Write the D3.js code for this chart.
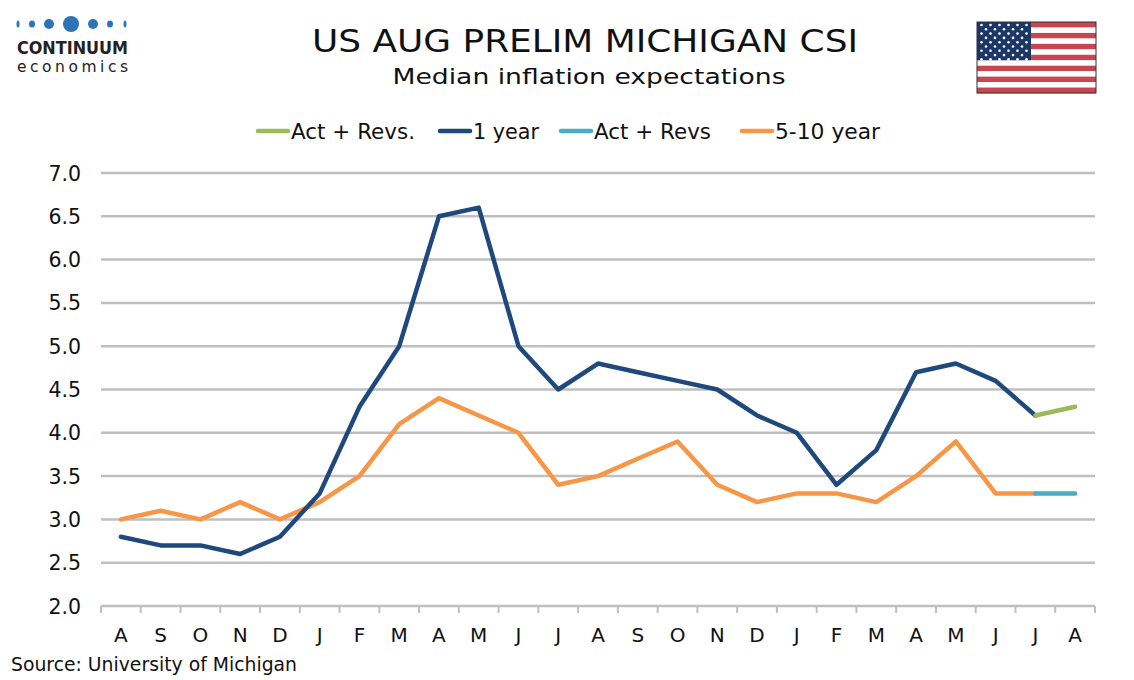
<!DOCTYPE html>
<html><head><meta charset="utf-8">
<script src="https://cdn.jsdelivr.net/npm/d3@7"></script>
<style>body{margin:0;background:#fff}svg{display:block}text{font-family:"DejaVu Sans",Verdana,sans-serif}</style>
</head><body>
<script>
const months = ["A","S","O","N","D","J","F","M","A","M","J","J","A","S","O","N","D","J","F","M","A","M","J","J","A"];
const oneYear = [2.8,2.7,2.7,2.6,2.8,3.3,4.3,5.0,6.5,6.6,5.0,4.5,4.8,4.7,4.6,4.5,4.2,4.0,3.4,3.8,4.7,4.8,4.6,4.2,null];
const oneYearRev = [null,null,null,null,null,null,null,null,null,null,null,null,null,null,null,null,null,null,null,null,null,null,null,4.2,4.3];
const fiveTen = [3.0,3.1,3.0,3.2,3.0,3.2,3.5,4.1,4.4,4.2,4.0,3.4,3.5,3.7,3.9,3.4,3.2,3.3,3.3,3.2,3.5,3.9,3.3,3.3,null];
const fiveTenRev = [null,null,null,null,null,null,null,null,null,null,null,null,null,null,null,null,null,null,null,null,null,null,null,3.3,3.3];
const yTicks = [2.0,2.5,3.0,3.5,4.0,4.5,5.0,5.5,6.0,6.5,7.0];
const legendItems = [
  {name:"Act + Revs.", color:"#9BBB59"},
  {name:"1 year", color:"#1F497D"},
  {name:"Act + Revs", color:"#4BACC6"},
  {name:"5-10 year", color:"#F79646"}
];

const W=1134,H=680;
const svg=d3.select("body").append("svg").attr("width",W).attr("height",H);
const L=101,R=1095,T=173,B=606;
const x=d3.scaleBand().domain(d3.range(months.length)).range([L,R]);
const y=d3.scaleLinear().domain([2,7]).range([B,T]);

// gridlines
svg.append("g").selectAll("line").data(yTicks).join("line")
  .attr("x1",L).attr("x2",R).attr("y1",d=>y(d)).attr("y2",d=>y(d))
  .attr("stroke","#BFBFBF").attr("stroke-width",2.5);
// y labels
svg.append("g").selectAll("text").data(yTicks).join("text")
  .attr("x",81).attr("y",d=>y(d)+7.5).attr("text-anchor","end")
  .attr("font-size",20.5).attr("fill","#111").text(d=>d.toFixed(1));
// x ticks
const bounds=d3.range(months.length+1).map(i=>L+i*x.step());
svg.append("g").selectAll("line").data(bounds).join("line")
  .attr("x1",d=>d).attr("x2",d=>d).attr("y1",B).attr("y2",B+7)
  .attr("stroke","#BFBFBF").attr("stroke-width",2);
svg.append("g").selectAll("text").data(months).join("text")
  .attr("x",(d,i)=>x(i)+x.bandwidth()/2).attr("y",642).attr("text-anchor","middle")
  .attr("font-size",20).attr("fill","#111").text(d=>d);

const line=d3.line().defined(d=>d!=null).x((d,i)=>x(i)+x.bandwidth()/2).y(d=>y(d));
function draw(data,color){
  svg.append("path").datum(data).attr("d",line).attr("fill","none")
    .attr("stroke",color).attr("stroke-width",4.5).attr("stroke-linejoin","round").attr("stroke-linecap","round");
}
draw(fiveTen,"#F79646");
draw(fiveTenRev,"#4BACC6");
draw(oneYear,"#1F497D");
draw(oneYearRev,"#9BBB59");

// legend
const legX=[258,440,561,742];
const legW=[124,66,117,105];
legendItems.forEach((it,i)=>{
  svg.append("line").attr("x1",legX[i]).attr("x2",legX[i]+30).attr("y1",131).attr("y2",131)
    .attr("stroke",it.color).attr("stroke-width",4.5).attr("stroke-linecap","round");
  svg.append("text").attr("x",legX[i]+33).attr("y",139).attr("font-size",21)
    .attr("textLength",legW[i]).attr("lengthAdjust","spacingAndGlyphs").attr("fill","#111").text(it.name);
});

// titles
svg.append("text").attr("x",585).attr("y",52).attr("text-anchor","middle").attr("font-size",32.5)
  .attr("textLength",546).attr("lengthAdjust","spacingAndGlyphs").attr("fill","#111").text("US AUG PRELIM MICHIGAN CSI");
svg.append("text").attr("x",589).attr("y",84).attr("text-anchor","middle").attr("font-size",22)
  .attr("textLength",393).attr("lengthAdjust","spacingAndGlyphs").attr("fill","#111").text("Median inflation expectations");
svg.append("text").attr("x",11).attr("y",671).attr("font-size",19.5)
  .attr("textLength",286).attr("lengthAdjust","spacingAndGlyphs").attr("fill","#111").text("Source: University of Michigan");

// logo
const dots=[[18,1.5],[32,3],[49,5],[71,8],[93,5],[110,3],[125,1.5]];
svg.append("g").selectAll("ellipse").data(dots).join("ellipse")
  .attr("cx",d=>d[0]).attr("cy",24).attr("rx",d=>d[1]).attr("ry",d=>Math.max(d[1],3.5)).attr("fill","#2E75B6");
svg.append("text").attr("x",17).attr("y",54).attr("font-size",18.5).attr("font-weight","bold")
  .attr("textLength",111).attr("lengthAdjust","spacingAndGlyphs").attr("fill","#222").text("CONTINUUM");
svg.append("text").attr("x",17).attr("y",72).attr("font-size",15.5)
  .attr("textLength",111).attr("lengthAdjust","spacing").attr("fill","#222").text("economics");

// flag
const fx=977,fy=22,fw=119,fh=71;
const flag=svg.append("g");
d3.range(13).forEach(i=>{
  flag.append("rect").attr("x",fx).attr("y",fy+i*fh/13).attr("width",fw).attr("height",fh/13+0.3)
    .attr("fill",i%2===0?"#C8464F":"#fff");
});
flag.append("rect").attr("x",fx).attr("y",fy).attr("width",54).attr("height",fh*7/13).attr("fill","#1C3666");
for(let r=0;r<9;r++){const n=r%2===0?6:5;for(let c=0;c<n;c++){
  flag.append("circle").attr("cx",fx+4.5+(r%2===0?0:4.5)+c*9).attr("cy",fy+3+r*4.3).attr("r",1.3).attr("fill","#fff");}}
flag.append("rect").attr("x",fx).attr("y",fy).attr("width",fw).attr("height",fh).attr("fill","none").attr("stroke","#333").attr("stroke-width",1);
</script>
</body></html>
